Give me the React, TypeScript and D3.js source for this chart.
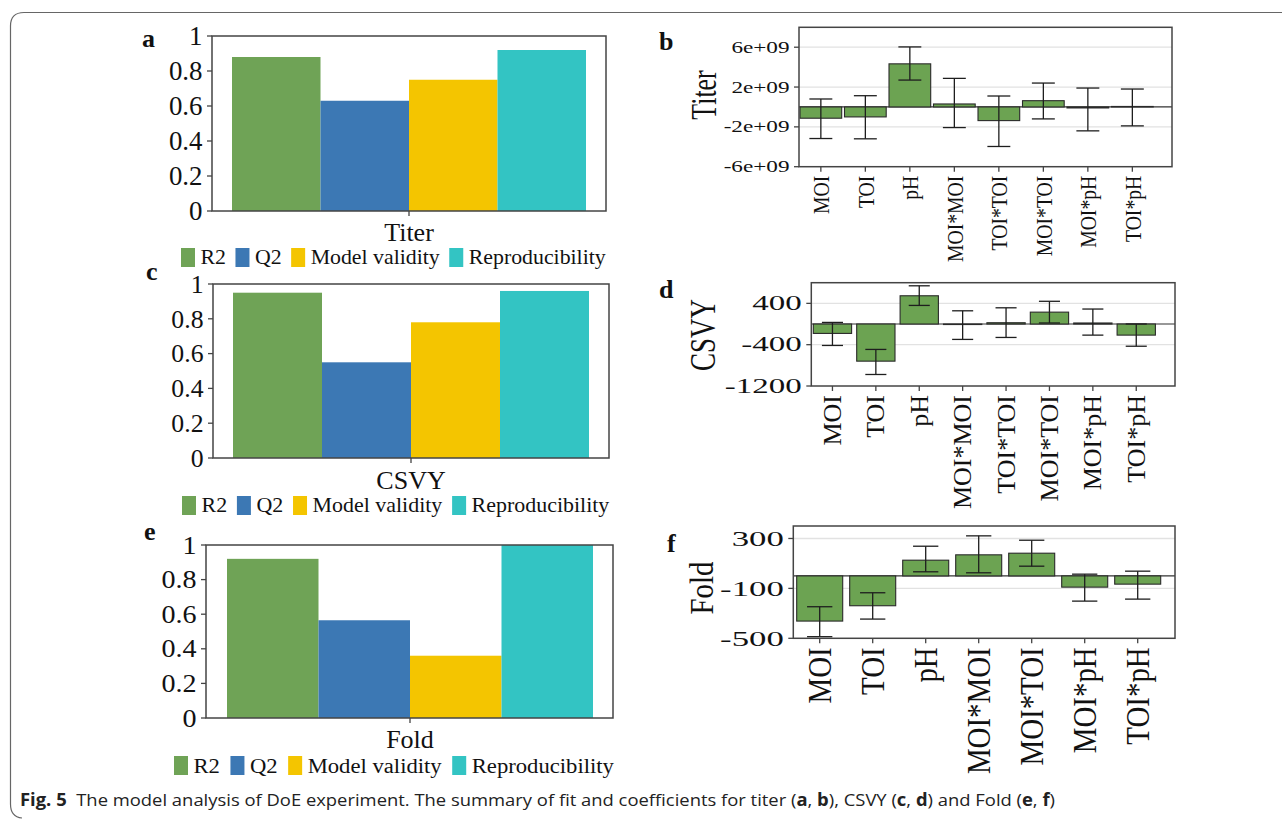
import React, { useEffect, useRef } from 'react';
import * as d3 from 'd3';

const W = 1282;
const H = 820;
const SERIF = '"Liberation Serif", "Times New Roman", serif';

// summary of fit (left panels)
const fitNames = ['R2', 'Q2', 'Model validity', 'Reproducibility'];
const fitColors = ['#6fa356', '#3c78b4', '#f4c500', '#33c4c3'];
const fitTicks = [0, 0.2, 0.4, 0.6, 0.8, 1];
const titerFit = [0.88, 0.63, 0.75, 0.92];
const csvyFit = [0.95, 0.55, 0.78, 0.96];
const foldFit = [0.92, 0.565, 0.36, 1.0];

// coefficients (right panels)
const terms8 = ['MOI', 'TOI', 'pH', 'MOI*MOI', 'TOI*TOI', 'MOI*TOI', 'MOI*pH', 'TOI*pH'];
const terms7 = ['MOI', 'TOI', 'pH', 'MOI*MOI', 'MOI*TOI', 'MOI*pH', 'TOI*pH'];

const titerCoef = [-1.13e9, -1.0e9, 4.33e9, 0.3e9, -1.37e9, 0.63e9, -0.1e9, 0.05e9];
const titerLow = [-3.17e9, -3.2e9, 2.7e9, -2.07e9, -3.97e9, -1.2e9, -2.4e9, -1.9e9];
const titerHigh = [0.8e9, 1.13e9, 6.03e9, 2.87e9, 1.1e9, 2.4e9, 1.9e9, 1.8e9];
const titerTicks = [6e9, 2e9, -2e9, -6e9];
const titerTickLabels = ['6e+09', '2e+09', '-2e+09', '-6e+09'];

const csvyCoef = [-182, -719, 547, -10, 25, 230, 20, -215];
const csvyLow = [-415, -977, 360, -298, -260, 20, -215, -430];
const csvyHigh = [31, -492, 740, 256, 314, 440, 290, 0];
const csvyTicks = [400, -400, -1200];
const csvyTickLabels = ['400', '-400', '-1200'];

const foldCoef = [-362, -239, 126, 169, 182, -90, -66];
const foldLow = [-487, -346, 33, 25, 78, -202, -186];
const foldHigh = [-247, -135, 238, 321, 286, 14, 38];
const foldTicks = [300, -100, -500];
const foldTickLabels = ['300', '-100', '-500'];

const leftPanels = [
  { letter: 'a', lx: 142, ly: 47, name: 'Titer', values: titerFit, x0: 212, x1: 606, y0: 211, y1: 36,
    barL: 232, barR: 586, tf: 28, tsx: 0.96, titleY: 241, legY: 248, legX: 181, legF: 21, legSx: 1.04, legGap: 9.5 },
  { letter: 'c', lx: 146, ly: 280, name: 'CSVY', values: csvyFit, x0: 213, x1: 609, y0: 458, y1: 284,
    barL: 233, barR: 589, tf: 25, tsx: 1.03, titleY: 489, legY: 496, legX: 182, legF: 21, legSx: 1.045, legGap: 9.8 },
  { letter: 'e', lx: 144, ly: 540, name: 'Fold', values: foldFit, x0: 206, x1: 613, y0: 718, y1: 545,
    barL: 227, barR: 593, tf: 26, tsx: 1.08, titleY: 748, legY: 756, legX: 174, legF: 21.6, legSx: 1.05, legGap: 10.5 },
];

const rightPanels = [
  { letter: 'b', lx: 659, ly: 50, name: 'Titer', terms: terms8, coef: titerCoef, low: titerLow, high: titerHigh,
    ticks: titerTicks, tickLabels: titerTickLabels, domain: [-6e9, 8e9],
    left: 799, right: 1172, top: 27.3, bottom: 166.7, firstL: 800, step: 44.5, bw: 41.7,
    tf: 16, tsx: 1.45, xf: 24, xsx: 0.82, ttf: 35, ttsx: 0.74, ttx: 705, tty: 95 },
  { letter: 'd', lx: 659, ly: 298, name: 'CSVY', terms: terms8, coef: csvyCoef, low: csvyLow, high: csvyHigh,
    ticks: csvyTicks, tickLabels: csvyTickLabels, domain: [-1200, 800],
    left: 811.3, right: 1175, top: 282.7, bottom: 386, firstL: 813.3, step: 43.4, bw: 38.3,
    tf: 20, tsx: 1.65, xf: 26, xsx: 1.0, ttf: 35, ttsx: 0.77, ttx: 703, tty: 335 },
  { letter: 'f', lx: 667, ly: 552, name: 'Fold', terms: terms7, coef: foldCoef, low: foldLow, high: foldHigh,
    ticks: foldTicks, tickLabels: foldTickLabels, domain: [-500, 400],
    left: 793.3, right: 1175, top: 526, bottom: 638.3, firstL: 796.7, step: 53, bw: 46,
    tf: 22, tsx: 1.58, xf: 34, xsx: 0.85, ttf: 34, ttsx: 0.85, ttx: 702, tty: 588 },
];

function label(g, txt, x, y, size, sx, anchor, rotate = false, baseline = 'auto', weight = 'normal') {
  return g.append('text')
    .text(txt)
    .attr('transform', `translate(${x},${y})${rotate ? ' rotate(-90)' : ''} scale(${sx},1)`)
    .attr('font-family', SERIF)
    .attr('font-size', size)
    .attr('font-weight', weight)
    .attr('text-anchor', anchor)
    .attr('dominant-baseline', baseline)
    .attr('fill', '#111');
}

function drawFit(svg, p) {
  const g = svg.append('g');
  const x = d3.scaleBand().domain(fitNames).range([p.barL, p.barR]).padding(0);
  const y = d3.scaleLinear().domain([0, 1]).range([p.y0, p.y1]);

  g.selectAll('rect.bar')
    .data(p.values)
    .join('rect')
    .attr('x', (d, i) => x(fitNames[i]))
    .attr('y', d => y(d))
    .attr('width', x.bandwidth())
    .attr('height', d => y(0) - y(d))
    .attr('fill', (d, i) => fitColors[i]);

  g.append('rect')
    .attr('x', p.x0).attr('y', y(1))
    .attr('width', p.x1 - p.x0).attr('height', y(0) - y(1))
    .attr('fill', 'none').attr('stroke', '#444').attr('stroke-width', 1.5);

  fitTicks.forEach(t => {
    g.append('line').attr('x1', p.x0 - 5).attr('x2', p.x0).attr('y1', y(t)).attr('y2', y(t))
      .attr('stroke', '#444').attr('stroke-width', 1.3);
    label(g, String(t), p.x0 - 9.5, y(t), p.tf, p.tsx, 'end', false, 'central');
  });

  const cx = (p.barL + p.barR) / 2;
  g.append('line').attr('x1', cx).attr('x2', cx).attr('y1', y(0)).attr('y2', y(0) + 5)
    .attr('stroke', '#444').attr('stroke-width', 1.3);
  label(g, p.name, cx, p.titleY, 26, 1, 'middle');
  label(g, p.letter, p.lx, p.ly, 26, 1, 'start', false, 'auto', 'bold');

  // legend
  let lx = p.legX;
  fitNames.forEach((n, i) => {
    g.append('rect').attr('x', lx).attr('y', p.legY).attr('width', 14).attr('height', 19)
      .attr('fill', fitColors[i]);
    const t = label(g, n, lx + 19.5, p.legY + 9.5, p.legF, p.legSx, 'start', false, 'central');
    const w = (t.node() as SVGTextElement).getComputedTextLength() * p.legSx;
    lx = lx + 19.5 + w + p.legGap;
  });
}

function drawCoef(svg, p) {
  const g = svg.append('g');
  const n = p.terms.length;
  const pi = 1 - p.bw / p.step;
  const po = (p.firstL - p.left) / p.step;
  const x = d3.scaleBand().domain(p.terms)
    .range([p.left, p.left + p.step * (n - pi + 2 * po)])
    .paddingInner(pi).paddingOuter(po);
  const y = d3.scaleLinear().domain(p.domain).range([p.bottom, p.top]);

  // grid
  p.ticks.forEach(t => {
    if (Math.abs(y(t) - p.bottom) < 1) return;
    g.append('line').attr('x1', p.left).attr('x2', p.right).attr('y1', y(t)).attr('y2', y(t))
      .attr('stroke', '#e2e2e2').attr('stroke-width', 1.3);
  });

  g.append('line').attr('x1', p.left).attr('x2', p.right).attr('y1', y(0)).attr('y2', y(0))
    .attr('stroke', '#333').attr('stroke-width', 1.2);

  g.selectAll('rect.bar')
    .data(p.coef)
    .join('rect')
    .attr('x', (d, i) => x(p.terms[i]))
    .attr('y', d => y(Math.max(0, d)))
    .attr('width', x.bandwidth())
    .attr('height', d => Math.abs(y(d) - y(0)))
    .attr('fill', '#6ca352')
    .attr('stroke', '#2a2a2a')
    .attr('stroke-width', 1.1);

  const cap = x.bandwidth() * 0.55;
  p.terms.forEach((t, i) => {
    const cx = x(t) + x.bandwidth() / 2;
    const e = g.append('g').attr('stroke', '#1e1e1e').attr('stroke-width', 1.3);
    e.append('line').attr('x1', cx).attr('x2', cx).attr('y1', y(p.low[i])).attr('y2', y(p.high[i]));
    e.append('line').attr('x1', cx - cap / 2).attr('x2', cx + cap / 2).attr('y1', y(p.low[i])).attr('y2', y(p.low[i]));
    e.append('line').attr('x1', cx - cap / 2).attr('x2', cx + cap / 2).attr('y1', y(p.high[i])).attr('y2', y(p.high[i]));

    g.append('line').attr('x1', cx).attr('x2', cx).attr('y1', p.bottom).attr('y2', p.bottom + 5)
      .attr('stroke', '#444').attr('stroke-width', 1.3);
    label(g, t, cx, p.bottom + 9, p.xf, p.xsx, 'end', true, 'central');
  });

  g.append('rect')
    .attr('x', p.left).attr('y', p.top)
    .attr('width', p.right - p.left).attr('height', p.bottom - p.top)
    .attr('fill', 'none').attr('stroke', '#444').attr('stroke-width', 1.5);

  p.ticks.forEach((t, i) => {
    g.append('line').attr('x1', p.left - 5).attr('x2', p.left).attr('y1', y(t)).attr('y2', y(t))
      .attr('stroke', '#444').attr('stroke-width', 1.3);
    label(g, p.tickLabels[i], p.left - 9.5, y(t), p.tf, p.tsx, 'end', false, 'central');
  });

  label(g, p.name, p.ttx, p.tty, p.ttf, p.ttsx, 'middle', true, 'central');
  label(g, p.letter, p.lx, p.ly, 26, 1, 'start', false, 'auto', 'bold');
}

export default function App() {
  const ref = useRef<SVGSVGElement>(null);

  useEffect(() => {
    const svg = d3.select(ref.current);
    svg.selectAll('*').remove();

    svg.append('path')
      .attr('d', 'M1282,12.5 L24,12.5 Q10.5,12.5 10.5,26 L10.5,804 Q10.5,817 22,818')
      .attr('fill', 'none').attr('stroke', '#666').attr('stroke-width', 1.2);

    leftPanels.forEach(p => drawFit(svg, p));
    rightPanels.forEach(p => drawCoef(svg, p));

    const cap = svg.append('text')
      .attr('x', 20).attr('y', 806)
      .attr('font-family', '"Open Sans", "Noto Sans", sans-serif')
      .attr('font-size', 17)
      .attr('fill', '#222')
      .attr('textLength', 1035)
      .attr('lengthAdjust', 'spacingAndGlyphs');
    const parts: [string, boolean][] = [
      ['Fig. 5', true], ['  The model analysis of DoE experiment. The summary of fit and coefficients for titer (', false],
      ['a', true], [', ', false], ['b', true], ['), CSVY (', false], ['c', true], [', ', false], ['d', true],
      [') and Fold (', false], ['e', true], [', ', false], ['f', true], [')', false],
    ];
    parts.forEach(([s, b]) => {
      cap.append('tspan').text(s).attr('font-weight', b ? 'bold' : 'normal').attr('xml:space', 'preserve');
    });
  }, []);

  return (
    <svg ref={ref} width={W} height={H}
      style={{ position: 'absolute', left: 0, top: 0, background: '#fff' }} />
  );
}
